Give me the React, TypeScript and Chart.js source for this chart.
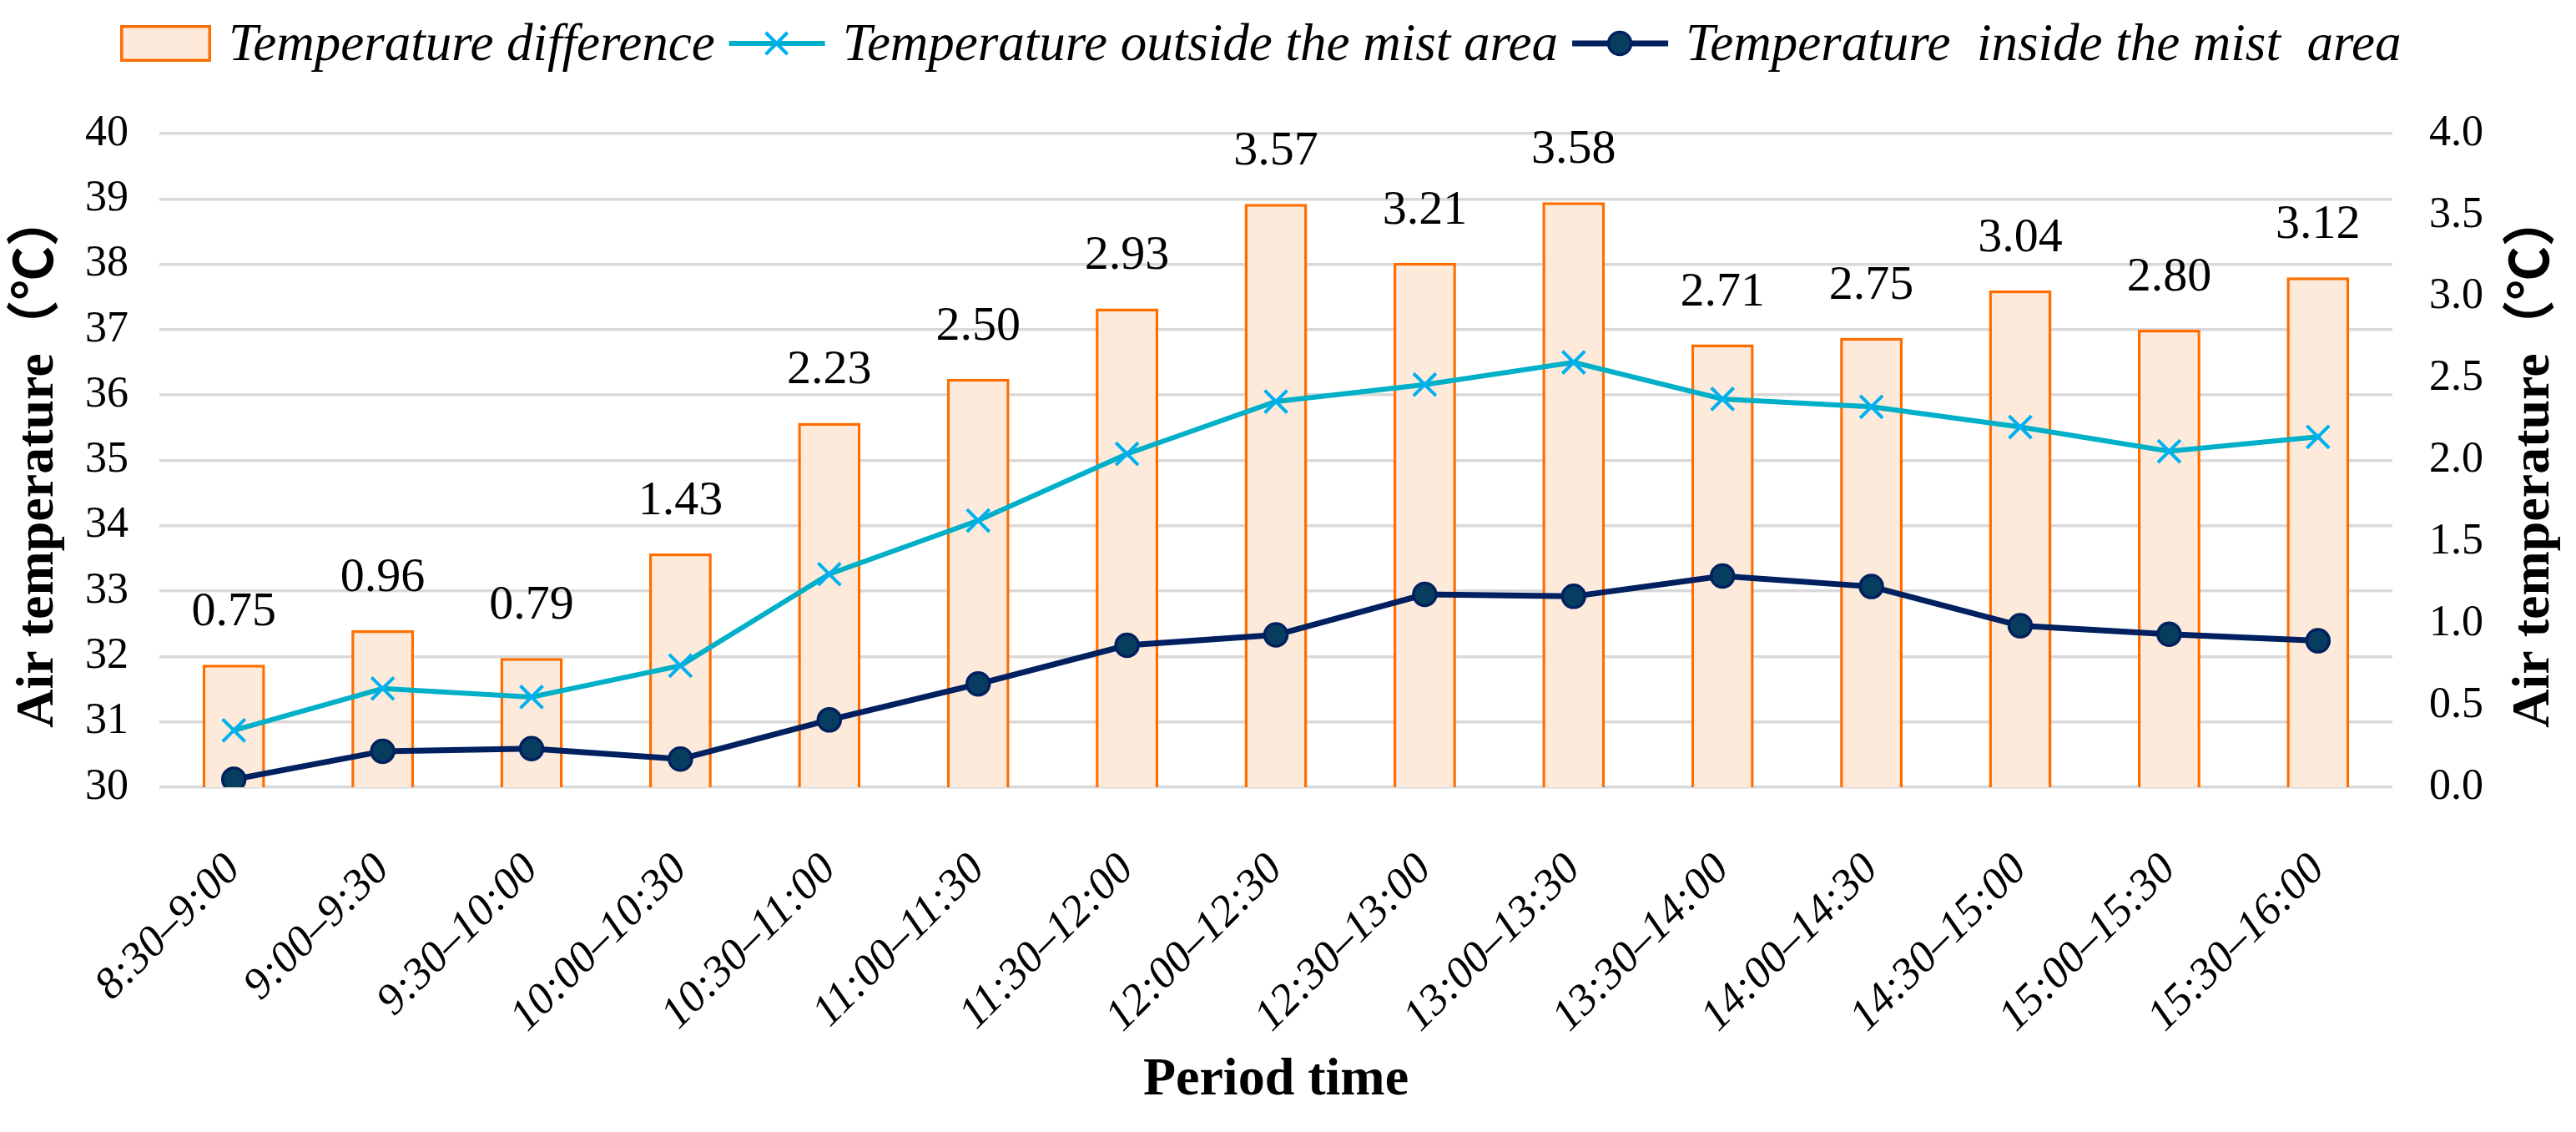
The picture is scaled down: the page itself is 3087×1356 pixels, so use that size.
import { useEffect, useRef } from 'react';
import { Chart, registerables } from 'chart.js';

Chart.register(...registerables);

const PERIODS = [
  '8:30–9:00', '9:00–9:30', '9:30–10:00', '10:00–10:30', '10:30–11:00',
  '11:00–11:30', '11:30–12:00', '12:00–12:30', '12:30–13:00', '13:00–13:30',
  '13:30–14:00', '14:00–14:30', '14:30–15:00', '15:00–15:30', '15:30–16:00',
];
const TEMP_DIFF = [0.75, 0.96, 0.79, 1.43, 2.23, 2.50, 2.93, 3.57, 3.21, 3.58, 2.71, 2.75, 3.04, 2.80, 3.12];
const TEMP_OUTSIDE = [30.87, 31.51, 31.38, 31.86, 33.26, 34.08, 35.10, 35.90, 36.16, 36.50, 35.94, 35.82, 35.51, 35.14, 35.36];
const TEMP_INSIDE = [30.12, 30.55, 30.59, 30.43, 31.03, 31.58, 32.17, 32.33, 32.95, 32.92, 33.23, 33.07, 32.47, 32.34, 32.24];

const LEGEND_LABELS = [
  'Temperature difference',
  'Temperature outside the mist area',
  'Temperature  inside the mist  area',
];
const Y_TITLE = 'Air temperature（℃）';
const X_TITLE = 'Period time';

const SERIF = '"Liberation Serif", serif';
const SERIF_CJK = '"Liberation Serif", "Noto Sans CJK SC", serif';
const ORANGE = '#FF6D00';
const PEACH = '#FDEADA';
const CYAN_LINE = '#00AFC8';
const CYAN_MARK = '#00B0F0';
const NAVY = '#002060';
const NAVY_MARK = '#073E60';

// legend, bar value labels and the two rotated axis titles
const decorPlugin = {
  id: 'decor',
  afterDatasetsDraw(chart: Chart) {
    const ctx = chart.ctx;
    const area = chart.chartArea;
    ctx.save();

    // value labels above bars
    ctx.font = `58px ${SERIF}`;
    ctx.fillStyle = '#000';
    ctx.textAlign = 'center';
    ctx.textBaseline = 'alphabetic';
    const meta = chart.getDatasetMeta(0);
    meta.data.forEach((el: any, i: number) => {
      ctx.fillText(TEMP_DIFF[i].toFixed(2), el.x, el.y - 47);
    });

    // legend
    ctx.font = `italic 63px ${SERIF}`;
    ctx.textAlign = 'left';
    const midY = 52;
    let x = 144;
    ctx.fillStyle = PEACH;
    ctx.fillRect(x, 30, 109, 44);
    ctx.strokeStyle = ORANGE;
    ctx.lineWidth = 3.5;
    ctx.strokeRect(x + 1.75, 31.75, 105.5, 40.5);
    x += 109 + 21;
    ctx.fillStyle = '#000';
    ctx.fillText(LEGEND_LABELS[0], x, 72);
    x += ctx.measureText(LEGEND_LABELS[0]).width + 17;

    ctx.strokeStyle = CYAN_LINE;
    ctx.lineWidth = 6;
    ctx.beginPath();
    ctx.moveTo(x, midY);
    ctx.lineTo(x + 115, midY);
    ctx.stroke();
    ctx.strokeStyle = CYAN_MARK;
    ctx.lineWidth = 4;
    const cx = x + 57, d = 13;
    ctx.beginPath();
    ctx.moveTo(cx - d, midY - d);
    ctx.lineTo(cx + d, midY + d);
    ctx.moveTo(cx - d, midY + d);
    ctx.lineTo(cx + d, midY - d);
    ctx.stroke();
    x += 115 + 21;
    ctx.fillStyle = '#000';
    ctx.fillText(LEGEND_LABELS[1], x, 72);
    x += ctx.measureText(LEGEND_LABELS[1]).width + 17;

    ctx.strokeStyle = NAVY;
    ctx.lineWidth = 7;
    ctx.beginPath();
    ctx.moveTo(x, midY);
    ctx.lineTo(x + 115, midY);
    ctx.stroke();
    ctx.fillStyle = NAVY_MARK;
    ctx.lineWidth = 3.5;
    ctx.beginPath();
    ctx.arc(x + 57, midY, 13.5, 0, Math.PI * 2);
    ctx.fill();
    ctx.stroke();
    x += 115 + 21;
    ctx.fillStyle = '#000';
    ctx.fillText(LEGEND_LABELS[2], x, 72);

    // axis titles (both vertical ones read bottom to top)
    ctx.font = `bold 64px ${SERIF_CJK}`;
    ctx.textAlign = 'center';
    const cy = (area.top + area.bottom) / 2;
    [63, 3054].forEach((bx) => {
      ctx.save();
      ctx.translate(bx, cy);
      ctx.rotate(-Math.PI / 2);
      ctx.fillText(Y_TITLE, 0, 0);
      ctx.restore();
    });
    ctx.fillText(X_TITLE, (area.left + area.right) / 2, 1311);

    ctx.restore();
  },
};

export default function App() {
  const canvasRef = useRef<HTMLCanvasElement>(null);
  const chartRef = useRef<Chart | null>(null);

  useEffect(() => {
    if (!canvasRef.current) return;
    if (chartRef.current) chartRef.current.destroy();

    chartRef.current = new Chart(canvasRef.current, {
      type: 'bar',
      data: {
        labels: PERIODS,
        datasets: [
          {
            type: 'bar',
            label: LEGEND_LABELS[0],
            data: TEMP_DIFF,
            yAxisID: 'y1',
            backgroundColor: PEACH,
            borderColor: ORANGE,
            borderWidth: 3.5,
            categoryPercentage: 1,
            barPercentage: 0.42,
            order: 3,
          },
          {
            type: 'line',
            label: LEGEND_LABELS[1],
            data: TEMP_OUTSIDE,
            yAxisID: 'y',
            borderColor: CYAN_LINE,
            borderWidth: 6,
            tension: 0,
            pointStyle: 'crossRot',
            pointRadius: 19,
            pointBorderColor: CYAN_MARK,
            pointBorderWidth: 4,
            order: 2,
          },
          {
            type: 'line',
            label: LEGEND_LABELS[2],
            data: TEMP_INSIDE,
            yAxisID: 'y',
            borderColor: NAVY,
            borderWidth: 7,
            tension: 0,
            pointStyle: 'circle',
            pointRadius: 13.5,
            pointBackgroundColor: NAVY_MARK,
            pointBorderColor: NAVY,
            pointBorderWidth: 3.5,
            order: 1,
          },
        ],
      },
      options: {
        responsive: true,
        maintainAspectRatio: false,
        animation: false,
        devicePixelRatio: 1,
        layout: { padding: { top: 160, left: 0, right: 0, bottom: 0 } },
        plugins: {
          legend: { display: false },
          tooltip: { enabled: false },
        },
        scales: {
          x: {
            grid: { display: false },
            border: { display: false },
            ticks: {
              color: '#000',
              font: { family: SERIF, size: 53, style: 'italic' },
              minRotation: 45,
              maxRotation: 45,
              autoSkip: false,
              padding: 60,
            },
            afterFit: (s: any) => { s.height = 413; },
          },
          y: {
            position: 'left',
            min: 30,
            max: 40,
            grid: { color: '#D9D9D9', lineWidth: 3.5, drawTicks: false },
            border: { display: false },
            ticks: {
              stepSize: 1,
              color: '#000',
              font: { family: SERIF, size: 52 },
              padding: 37,
            },
            afterFit: (s: any) => { s.width = 191; },
          },
          y1: {
            position: 'right',
            min: 0,
            max: 4,
            grid: { display: false },
            border: { display: false },
            ticks: {
              stepSize: 0.5,
              color: '#000',
              font: { family: SERIF, size: 52 },
              padding: 36,
              callback: (v: any) => Number(v).toFixed(1),
            },
            afterFit: (s: any) => { s.width = 220; },
          },
        },
      },
      plugins: [decorPlugin],
    });

    return () => { chartRef.current?.destroy(); };
  }, []);

  return (
    <div style={{ position: 'absolute', left: 0, top: 0, width: 3087, height: 1356, background: '#fff' }}>
      <canvas ref={canvasRef} />
    </div>
  );
}
